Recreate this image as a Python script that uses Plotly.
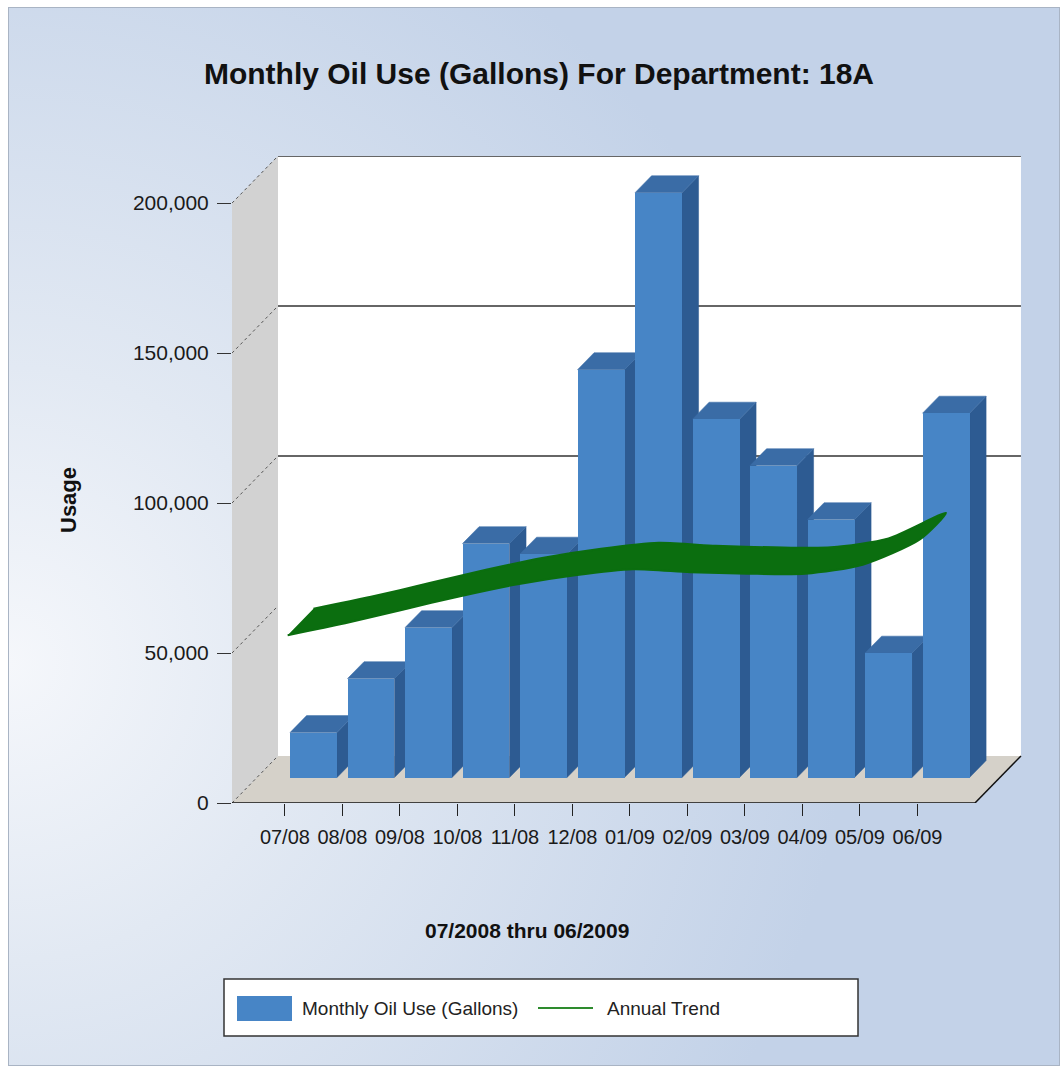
import base64
import plotly.graph_objects as go

# ---------------- data ----------------
MONTHS = ["07/08", "08/08", "09/08", "10/08", "11/08", "12/08",
          "01/09", "02/09", "03/09", "04/09", "05/09", "06/09"]
OIL_USE = [15000, 33000, 50000, 78000, 74500, 136000,
           195000, 119500, 104000, 86000, 41500, 121500]
ANNUAL_TREND = [55000, 59000, 63500, 68000, 72000, 75000,
                77000, 76000, 75500, 75500, 78500, 87000]
Y_TICKS = [0, 50000, 100000, 150000, 200000]
Y_TICK_TEXT = ["0", "50,000", "100,000", "150,000", "200,000"]
TITLE = "Monthly Oil Use (Gallons) For Department: 18A"
X_TITLE = "07/2008 thru 06/2009"
Y_TITLE = "Usage"
SERIES_NAME = "Monthly Oil Use (Gallons)"
TREND_NAME = "Annual Trend"

# ---------------- layout constants ----------------
W, H = 1060, 1070
ML, MR, MT, MB = 232, 35, 156, 267
PW, PH = W - ML - MR, H - MT - MB

FONT = "Liberation Sans, Arial, sans-serif"
BAR_FRONT = "#4785c6"
BAR_TOP = "#3a6ca6"
BAR_SIDE = "#2d5b92"
GREEN = "#0b6e0f"

Y_MAX = 200000
DX, DY = 0.8, 15700          # oblique depth of the 3-D box (category units, gallons)
X_LEFT, X_FRONT_END = -0.92, 12.0
X_RANGE = [X_LEFT, X_FRONT_END + DX + 0.07]
Y_RANGE = [0, Y_MAX + DY]

FD, BD = 0.54, 0.36          # bar front depth fraction and bar thickness fraction
BAR_W = 0.817
BAR_SHIFT = 0.065
BASE = FD * DY
DA, DB = 0.06, 0.62          # trend ribbon depth fractions


def px_x(px):
    return (px - ML) / PW


def px_y(py):
    return (H - MB - py) / PH


fig = go.Figure()

# side and top faces of the bars (behind the front faces)
side_x, side_y, top_x, top_y = [], [], [], []
for k, v in enumerate(OIL_USE):
    xc = k + BAR_SHIFT + FD * DX
    xl, xr = xc - BAR_W / 2, xc + BAR_W / 2
    ddx, ddy = BD * DX, BD * DY
    side_x += [xr, xr, xr + ddx, xr + ddx, xr, None]
    side_y += [BASE, BASE + v, BASE + v + ddy, BASE + ddy, BASE, None]
    top_x += [xl, xr, xr + ddx, xl + ddx, xl, None]
    top_y += [BASE + v, BASE + v, BASE + v + ddy, BASE + v + ddy, BASE + v, None]

fig.add_trace(go.Scatter(x=side_x, y=side_y, mode="lines", fill="toself",
                         fillcolor=BAR_SIDE, line=dict(color=BAR_SIDE, width=0.5),
                         hoverinfo="skip", showlegend=False))
fig.add_trace(go.Scatter(x=top_x, y=top_y, mode="lines", fill="toself",
                         fillcolor=BAR_TOP, line=dict(color=BAR_TOP, width=0.5),
                         hoverinfo="skip", showlegend=False))

# front faces of the bars (overlay subplot, drawn above)
fig.add_trace(go.Bar(x=[k + BAR_SHIFT + FD * DX for k in range(len(OIL_USE))],
                     y=OIL_USE, base=[BASE] * len(OIL_USE), width=BAR_W,
                     marker=dict(color=BAR_FRONT, line=dict(width=0)),
                     name=SERIES_NAME, showlegend=False,
                     xaxis="x2", yaxis="y2"))

# trend ribbon
n = len(ANNUAL_TREND)
rib_x = [k + DA * DX for k in range(n)] + [k + DB * DX for k in reversed(range(n))]
rib_y = [ANNUAL_TREND[k] + DA * DY for k in range(n)] + \
        [ANNUAL_TREND[k] + DB * DY for k in reversed(range(n))]
fig.add_trace(go.Scatter(x=rib_x, y=rib_y, mode="lines", fill="toself",
                         fillcolor=GREEN,
                         line=dict(color=GREEN, width=2, shape="spline", smoothing=0.7),
                         name=TREND_NAME, showlegend=False, hoverinfo="skip",
                         xaxis="x2", yaxis="y2"))

# ---------------- 3-D frame ----------------
shapes = []
shapes.append(dict(type="path", xref="x", yref="y", layer="below",
                   path=f"M {X_LEFT},0 L {X_LEFT},{Y_MAX} L {X_LEFT+DX},{Y_MAX+DY} L {X_LEFT+DX},{DY} Z",
                   fillcolor="#d2d2d2", line=dict(width=0)))
shapes.append(dict(type="path", xref="x", yref="y", layer="below",
                   path=f"M {X_LEFT},0 L {X_FRONT_END},0 L {X_FRONT_END+DX},{DY} L {X_LEFT+DX},{DY} Z",
                   fillcolor="#d5d1c9", line=dict(width=0)))
shapes.append(dict(type="rect", xref="x", yref="y", layer="below",
                   x0=X_LEFT + DX, x1=X_FRONT_END + DX, y0=DY, y1=Y_MAX + DY,
                   fillcolor="white", line=dict(width=0)))
for v in Y_TICKS:
    if v >= 100000:
        shapes.append(dict(type="line", xref="x", yref="y", layer="below",
                           x0=X_LEFT + DX, x1=X_FRONT_END + DX, y0=v + DY, y1=v + DY,
                           line=dict(color="#333333", width=1.5)))
    shapes.append(dict(type="line", xref="x", yref="y", layer="below",
                       x0=X_LEFT, x1=X_LEFT + DX, y0=v, y1=v + DY,
                       line=dict(color="#555555", width=1, dash="dot")))
shapes.append(dict(type="line", xref="x", yref="y", layer="below",
                   x0=X_LEFT, x1=X_FRONT_END, y0=0, y1=0,
                   line=dict(color="#111111", width=1.5)))
shapes.append(dict(type="line", xref="x", yref="y", layer="below",
                   x0=X_FRONT_END, x1=X_FRONT_END + DX, y0=0, y1=DY,
                   line=dict(color="#111111", width=1.5)))

# legend box
shapes.append(dict(type="rect", xref="paper", yref="paper", layer="above",
                   x0=px_x(224), x1=px_x(858), y0=px_y(1036), y1=px_y(979),
                   fillcolor="white", line=dict(color="#333333", width=1.5)))
shapes.append(dict(type="rect", xref="paper", yref="paper", layer="above",
                   x0=px_x(237), x1=px_x(292), y0=px_y(1021), y1=px_y(996),
                   fillcolor=BAR_FRONT, line=dict(width=0)))
shapes.append(dict(type="line", xref="paper", yref="paper", layer="above",
                   x0=px_x(538), x1=px_x(593), y0=px_y(1008), y1=px_y(1008),
                   line=dict(color="#2e8b2e", width=2)))

# background gradient panel
svg = ("<svg xmlns='http://www.w3.org/2000/svg' width='1052' height='1059'>"
       "<defs><radialGradient id='g' cx='0.0' cy='0.62' r='0.8'>"
       "<stop offset='0' stop-color='#f5f7fb'/>"
       "<stop offset='0.35' stop-color='#e2e9f3'/>"
       "<stop offset='1' stop-color='#c3d2e8'/>"
       "</radialGradient></defs>"
       "<rect x='0.5' y='0.5' width='1051' height='1058' fill='url(#g)' "
       "stroke='#a9b4c4' stroke-width='1'/></svg>")
src = "data:image/svg+xml;base64," + base64.b64encode(svg.encode()).decode()

annotations = [
    dict(text=f"<b>{Y_TITLE}</b>", xref="paper", yref="paper", x=px_x(68), y=px_y(500),
         xanchor="center", yanchor="middle",
         textangle=-90, showarrow=False, font=dict(family=FONT, size=22, color="#111111")),
    dict(text=f"<b>{X_TITLE}</b>", xref="paper", yref="paper", x=px_x(527), y=px_y(930),
         xanchor="center", yanchor="middle",
         showarrow=False, font=dict(family=FONT, size=21, color="#111111")),
    dict(text=SERIES_NAME, xref="paper", yref="paper", x=px_x(300), y=px_y(1008),
         xanchor="left", yanchor="middle", showarrow=False,
         font=dict(family=FONT, size=19, color="#222222")),
    dict(text=TREND_NAME, xref="paper", yref="paper", x=px_x(605), y=px_y(1008),
         xanchor="left", yanchor="middle", showarrow=False,
         font=dict(family=FONT, size=19, color="#222222")),
]

fig.update_layout(
    width=W, height=H,
    margin=dict(l=ML, r=MR, t=MT, b=MB),
    paper_bgcolor="white", plot_bgcolor="rgba(0,0,0,0)",
    showlegend=False,
    title=dict(text=f"<b>{TITLE}</b>", x=539 / W, y=1 - 73 / H, xref="container",
               yref="container", xanchor="center", yanchor="middle",
               font=dict(family=FONT, size=30, color="#111111")),
    xaxis=dict(range=X_RANGE, tickvals=list(range(len(MONTHS))), ticktext=MONTHS,
               ticks="outside", ticklen=12, tickcolor="#222222", showgrid=False,
               zeroline=False, showline=False, ticklabelstandoff=4,
               tickfont=dict(family=FONT, size=20, color="#1a1a1a"), fixedrange=True),
    yaxis=dict(range=Y_RANGE, tickvals=Y_TICKS, ticktext=Y_TICK_TEXT,
               ticks="outside", ticklen=14, tickcolor="#333333", showgrid=False,
               zeroline=False, showline=False, ticklabelstandoff=4,
               tickfont=dict(family=FONT, size=21, color="#1a1a1a"), fixedrange=True),
    xaxis2=dict(range=X_RANGE, overlaying="x", anchor="y2", visible=False, fixedrange=True),
    yaxis2=dict(range=Y_RANGE, overlaying="y", anchor="x2", visible=False, fixedrange=True),
    shapes=shapes,
    annotations=annotations,
    images=[dict(source=src, xref="paper", yref="paper", x=px_x(8), y=px_y(7),
                 sizex=(1060 - 8) / PW, sizey=(1066 - 7) / PH, xanchor="left",
                 yanchor="top", sizing="stretch", layer="below")],
    bargap=0,
)

fig.write_html("out.html")
